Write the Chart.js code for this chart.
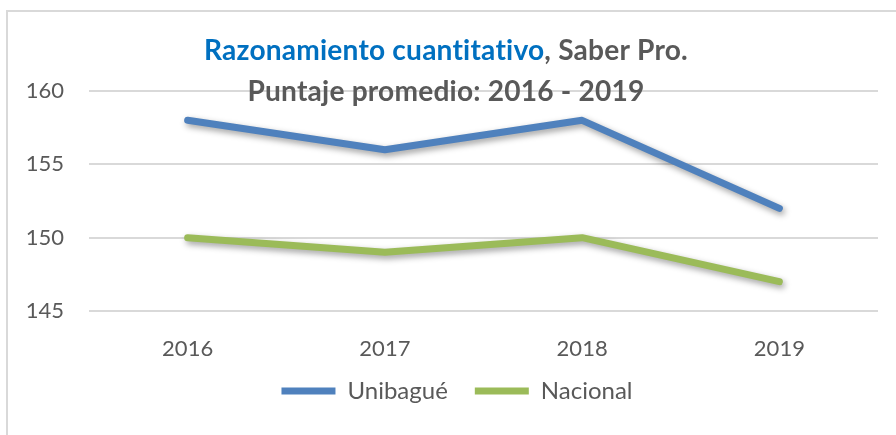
<!DOCTYPE html>
<html>
<head>
<meta charset="utf-8">
<script src="https://cdn.jsdelivr.net/npm/chart.js@4"></script>
<style>
html,body{margin:0;padding:0;background:#fff;}
#wrap{width:896px;height:435px;position:relative;}
</style>
</head>
<body>
<div id="wrap"><canvas id="c" width="896" height="435"></canvas></div>
<script>
const categories = ['2016', '2017', '2018', '2019'];
const unibague = [158, 156, 158, 152];
const nacional = [150, 149, 150, 147];
const seriesNames = ['Unibagué', 'Nacional'];
const titleLine1Blue = 'Razonamiento cuantitativo';
const titleLine1Gray = ', Saber Pro.';
const titleLine2 = 'Puntaje promedio: 2016 - 2019';

const BLUE = '#4F81BD';
const GREEN = '#9BBB59';
const GRAY_TEXT = '#595959';
const FONT = 'Lato, "Open Sans", sans-serif';

const shadowPlugin = {
  id: 'lineShadow',
  beforeDatasetDraw(chart) {
    const ctx = chart.ctx;
    ctx.save();
    ctx.shadowColor = 'rgba(0,0,0,0.38)';
    ctx.shadowBlur = 6;
    ctx.shadowOffsetX = 2;
    ctx.shadowOffsetY = 3;
  },
  afterDatasetDraw(chart) {
    chart.ctx.restore();
  }
};

const framePlugin = {
  id: 'frame',
  beforeDraw(chart) {
    const ctx = chart.ctx;
    ctx.save();
    ctx.fillStyle = '#fff';
    ctx.fillRect(0, 0, chart.width, chart.height);
    ctx.strokeStyle = '#d9d9d9';
    ctx.lineWidth = 2;
    ctx.strokeRect(7, 11, 1000, 1000);
    ctx.restore();
  }
};

const legendShiftPlugin = {
  id: 'legendShift',
  afterLayout(chart) {
    const lg = chart.legend;
    if (!lg) return;
    lg.left += 36;
    lg.top -= 10;
    lg.bottom -= 10;
  }
};

const titlePlugin = {
  id: 'mixedTitle',
  afterDraw(chart) {
    const ctx = chart.ctx;
    ctx.save();
    try { ctx.letterSpacing = '0.2px'; } catch (e) {}
    let size = 28;
    ctx.font = 'bold ' + size + 'px ' + FONT;
    const w0 = ctx.measureText(titleLine1Blue + titleLine1Gray).width;
    size = size * 484 / w0;
    ctx.font = 'bold ' + size.toFixed(2) + 'px ' + FONT;
    const wBlue = ctx.measureText(titleLine1Blue).width;
    const wGray = ctx.measureText(titleLine1Gray).width;
    const cx = 446;
    let x = cx - (wBlue + wGray) / 2;
    ctx.textBaseline = 'alphabetic';
    ctx.textAlign = 'left';
    ctx.fillStyle = '#0070C0';
    ctx.fillText(titleLine1Blue, x, 60);
    ctx.fillStyle = GRAY_TEXT;
    ctx.fillText(titleLine1Gray, x + wBlue, 60);
    ctx.textAlign = 'center';
    ctx.fillText(titleLine2, cx, 101);
    ctx.restore();
  }
};

new Chart(document.getElementById('c'), {
  type: 'line',
  data: {
    labels: categories,
    datasets: [
      { label: seriesNames[0], data: unibague, borderColor: BLUE, backgroundColor: BLUE },
      { label: seriesNames[1], data: nacional, borderColor: GREEN, backgroundColor: GREEN }
    ]
  },
  options: {
    responsive: false,
    animation: false,
    devicePixelRatio: 1,
    layout: { padding: { top: 91, right: 18, bottom: 12, left: 0 } },
    elements: {
      line: { borderWidth: 7, borderCapStyle: 'round', borderJoinStyle: 'round', tension: 0 },
      point: { radius: 0, hoverRadius: 0 }
    },
    scales: {
      x: {
        offset: true,
        grid: { display: false, drawTicks: false },
        border: { display: false },
        ticks: { color: GRAY_TEXT, font: { family: FONT, size: 22 }, padding: 25 },
        afterFit(scale) { scale.height = 51; }
      },
      y: {
        min: 145,
        max: 160,
        ticks: { stepSize: 5, color: GRAY_TEXT, font: { family: FONT, size: 22 }, padding: 25 },
        grid: { color: '#d9d9d9', lineWidth: 2, drawTicks: false },
        border: { display: false },
        afterFit(scale) { scale.width = 89; }
      }
    },
    plugins: {
      title: { display: false },
      tooltip: { enabled: false },
      legend: {
        position: 'bottom',
        labels: {
          color: GRAY_TEXT,
          font: { family: FONT, size: 24 },
          boxWidth: 54,
          boxHeight: 7,
          useBorderRadius: true,
          borderRadius: 3.5,
          padding: 27,
          generateLabels(chart) {
            return chart.data.datasets.map((ds, i) => ({
              text: ds.label,
              fillStyle: ds.borderColor,
              strokeStyle: ds.borderColor,
              lineWidth: 0,
              fontColor: GRAY_TEXT,
              hidden: false,
              datasetIndex: i
            }));
          }
        }
      }
    }
  },
  plugins: [framePlugin, legendShiftPlugin, shadowPlugin, titlePlugin]
});
</script>
</body>
</html>
